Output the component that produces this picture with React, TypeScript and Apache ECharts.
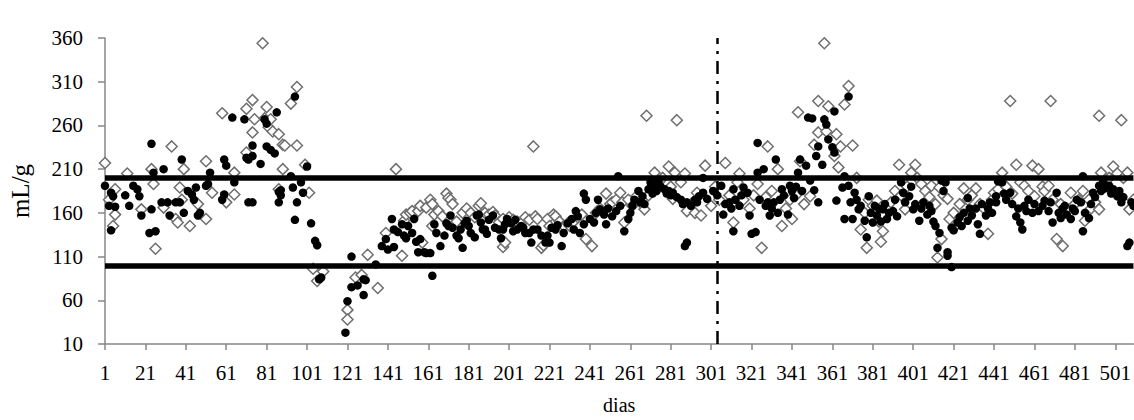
import React, { useEffect, useRef } from "react";
import * as echarts from "echarts";

// x categories: days 1..510 (labels shown every 20 days: 1, 21, 41, ... 501)
const dayCount = 510;
const categories: string[] = Array.from({ length: dayCount }, (_, i) => String(i + 1));
const labelEvery = 20;

// y ticks
const yTicks = [10, 60, 110, 160, 210, 260, 310, 360];

// reference lines
const upperLimit = 200;
const lowerLimit = 100;
const splitDay = "304";

// Black filled circles: [day, mL/g]
const circles1: [number, number][] = [
  [1,191],[3,168],[4,140],[4,183],[5,179],[6,167],[11,180],[13,168],[15,191],[17,187],[18,179],[19,157],
  [23,137],[24,164],[24,239],[25,206],[26,139],[29,172],[30,210],[32,172],[33,157],[36,172],[38,172],[39,221],
  [40,160],[42,185],[44,181],[45,175],[46,189],[47,157],[48,160],[51,191],[52,193],[53,206],[59,175],[60,181],
  [60,221],[61,214],[64,269],[65,195],[70,267],[71,223],[72,172],[72,221],[74,237],[74,172],[74,225],[78,216],
  [80,267],[81,262],[81,236],[83,232],[85,228],[86,275],[87,184],[88,186],[87,172],[88,180],[93,202],[94,189],
  [95,152],[95,293],[96,172],[98,195],[99,183],[101,213],[103,148],[105,128],[106,123],[107,84],[108,86],
];
const circles2: [number, number][] = [
  [120,23],[121,59],[123,110],[123,75],[126,77],[129,84],[129,66],[130,83],[135,101],[138,122],[140,130],[141,118],
  [143,153],[144,141],[144,121],[146,138],[148,147],[149,134],[150,131],[151,145],[153,137],[154,153],[155,127],
  [156,115],[157,130],[159,115],[160,114],[162,114],[163,88],[164,147],[165,137],[167,122],[169,134],[170,148],
  [171,145],[172,157],[173,143],[175,134],[176,131],[177,141],[178,120],[179,148],[180,151],[181,145],[182,137],
  [184,132],[185,157],[186,158],[187,149],[188,141],[189,141],[190,136],[191,152],[193,157],[194,143],[196,141],
  [197,131],[198,141],[199,147],[200,153],[202,148],[203,139],[204,152],[205,141],[207,145],[208,143],[209,137],
  [211,137],[212,126],[213,141],[215,141],[217,134],[219,126],[220,134],[221,126],[222,143],[224,141],[225,146],
  [227,122],[228,137],[230,148],[232,153],[233,141],[234,162],[235,156],[236,137],[238,147],[238,182],[239,175],
  [241,153],[243,149],[244,160],[245,175],[246,164],[248,158],[249,147],[250,165],[252,156],[254,162],[255,202],
  [256,168],[258,139],[260,153],[261,160],[262,168],[263,175],[265,185],[266,172],[267,179],[268,170],[270,187],
  [271,195],[272,182],[273,191],[274,185],[275,197],[276,190],[278,187],[279,182],[280,185],[281,180],[282,183],
  [284,178],[286,175],[287,170],[288,122],[289,126],[289,172],[291,168],[293,175],[294,172],[295,179],[297,183],
  [297,200],[299,176],
];
const circles3: [number, number][] = [
  [302,185],[304,180],[306,191],[307,158],[308,170],[310,172],[311,165],[312,187],[312,139],[313,175],[315,168],
  [316,180],[317,189],[319,183],[320,157],[321,136],[323,138],[324,240],[324,206],[325,175],[327,210],[328,168],
  [329,172],[330,157],[331,165],[332,172],[333,221],[334,160],[335,175],[336,187],[337,180],[339,158],[340,191],
  [341,185],[342,177],[343,190],[344,206],[345,221],[346,185],[348,214],[349,269],[350,197],[351,268],[352,186],
  [353,225],[354,172],[354,236],[356,215],[357,267],[358,261],[359,244],[361,235],[362,229],[362,276],[363,174],
  [366,189],[367,153],[367,202],[369,293],
];
const circles4: [number, number][] = [
  [369,191],[370,172],[371,153],[372,183],[373,175],[374,164],[375,168],[377,151],[378,132],[379,179],[380,160],
  [381,149],[382,168],[383,157],[384,165],[385,150],[386,164],[387,170],[388,153],[389,160],[391,162],[392,175],
  [393,156],[395,195],[396,183],[397,172],[399,179],[400,190],[401,164],[402,170],[404,151],[405,165],[406,172],
  [408,158],[409,168],[410,162],[411,150],[412,145],[413,120],[414,137],[415,197],[416,185],[417,195],[418,115],
  [418,111],[420,98],[420,143],[421,140],[423,149],[424,155],[425,145],[426,160],[428,151],[428,177],[429,165],
  [430,157],[432,165],[433,147],[434,136],[435,170],[437,157],[438,165],[439,172],[440,160],[442,179],[443,196],
];
const circles5: [number, number][] = [
  [442,172],[445,195],[446,182],[447,175],[449,183],[450,170],[452,156],[453,165],[454,149],[455,141],[456,168],
  [457,162],[458,175],[460,160],[461,170],[463,162],[465,168],[466,174],[468,162],[469,172],[470,149],[472,183],
  [473,160],[474,154],[475,165],[476,168],[477,158],[479,153],[480,165],[481,162],[482,175],[484,172],[485,202],
  [485,139],[486,160],[488,154],[489,170],[490,183],[491,178],[493,191],[494,185],[495,195],[496,188],[498,191],
  [499,182],[500,187],[502,179],[503,185],[504,172],[505,178],[507,122],[508,126],[509,172],[510,168],
];

// Open diamonds: [day, mL/g]
const diamonds1: [number, number][] = [
  [1,217],[3,175],[5,145],[6,187],[6,158],[12,205],[19,164],[24,210],[25,193],[26,119],[30,166],[34,236],
  [36,153],[37,149],[38,189],[39,175],[40,210],[43,145],[47,170],[51,153],[51,219],[54,183],[59,274],[61,172],
  [65,181],[65,206],[71,279],[71,229],[74,289],[74,252],[75,267],[79,354],[80,268],[81,281],[82,258],[83,267],
  [84,253],[87,250],[87,187],[89,210],[89,238],[90,237],[93,285],[96,304],[96,237],[100,215],[102,183],
];
const diamonds2: [number, number][] = [
  [104,96],[106,82],[109,93],[121,49],[121,38],[125,86],[128,89],[131,112],[136,74],[140,137],[145,210],
  [148,111],[149,151],[150,158],[152,160],[153,162],[156,162],[157,168],[158,126],[160,166],[162,175],[163,170],
  [163,145],[164,158],[166,162],[168,156],[170,182],[171,177],[172,175],[173,170],[175,150],[178,160],[180,165],
  [182,160],[184,155],[186,168],[187,171],[189,160],[191,158],[193,161],[194,157],[196,149],[198,153],[198,121],
  [199,126],[201,155],[203,152],[205,150],[207,148],[209,155],[211,152],[213,236],[214,156],[215,153],[217,120],
  [218,123],[220,153],[221,145],[223,158],[224,156],[226,150],[228,145],[230,148],[231,145],[233,150],[235,155],
  [237,158],[239,130],[242,122],[244,160],[246,165],[249,182],[251,170],[252,172],[254,175],[256,183],[257,172],
  [258,149],[260,175],[262,168],[264,179],[266,172],[268,164],[269,271],[270,180],[272,190],[273,206],[275,195],
  [277,200],[280,213],[281,190],[282,176],[283,206],[284,266],[286,195],[288,205],[289,162],[291,170],[293,160],
  [294,183],[296,157],[298,214],
];
const diamonds3: [number, number][] = [
  [301,168],[303,190],[305,175],[308,217],[310,180],[312,149],[314,195],[315,205],[317,175],[320,165],[322,180],
  [324,193],[326,120],[328,178],[329,236],[331,185],[334,210],[336,145],[338,165],[340,175],[341,153],[343,180],
  [344,275],[345,219],[347,170],[350,179],[352,238],[354,252],[354,288],[357,354],[358,253],[359,282],[362,225],
  [363,250],[364,212],[365,236],[367,284],[369,305],
];
const diamonds4: [number, number][] = [
  [371,237],[373,200],[375,141],[377,160],[378,120],[379,175],[381,168],[383,174],[384,150],[385,127],[386,139],
  [388,165],[390,172],[392,185],[394,215],[395,180],[397,164],[398,190],[400,206],[402,215],[403,200],[405,193],
  [407,185],[409,178],[410,191],[412,170],[413,109],[414,189],[415,130],[416,180],[418,176],[419,153],[421,160],
  [422,145],[424,170],[426,188],[428,175],[430,180],[432,188],[434,170],[436,165],[438,136],[440,175],[441,183],
];
const diamonds5: [number, number][] = [
  [443,187],[445,206],[447,190],[449,288],[450,182],[452,215],[454,195],[456,191],[458,185],[460,214],[461,179],
  [463,210],[465,190],[466,185],[468,191],[469,288],[470,175],[472,130],[474,170],[475,122],[477,165],[479,183],
  [481,170],[483,175],[485,185],[486,151],[488,175],[489,165],[491,172],[493,164],[493,271],[494,206],[496,195],
  [498,200],[500,213],[502,205],[504,266],[505,200],[507,206],[508,164],[510,175],
];

const circles = [...circles1, ...circles2, ...circles3, ...circles4, ...circles5];
const diamonds = [...diamonds1, ...diamonds2, ...diamonds3, ...diamonds4, ...diamonds5];

const toIndexed = (pts: [number, number][]) => pts.map(([d, v]) => [d - 1, v]);

const FONT = "'Liberation Serif', 'Times New Roman', serif";
const AXIS_GRAY = "#878787";

export default function App() {
  const ref = useRef<HTMLDivElement>(null);
  useEffect(() => {
    if (!ref.current) return;
    const chart = echarts.init(ref.current, undefined, { renderer: "svg" });
    chart.setOption({
      animation: false,
      backgroundColor: "#ffffff",
      grid: { left: 104, right: 0, top: 38, bottom: 75, containLabel: false },
      xAxis: {
        type: "category",
        data: categories,
        boundaryGap: false,
        name: "dias",
        nameLocation: "middle",
        nameGap: 51,
        nameTextStyle: { fontFamily: FONT, fontSize: 20, color: "#000" },
        axisLine: { lineStyle: { color: AXIS_GRAY, width: 1.5 } },
        axisTick: { interval: labelEvery - 1, length: 6, lineStyle: { color: AXIS_GRAY, width: 1.5 } },
        axisLabel: { interval: labelEvery - 1, margin: 18, fontFamily: FONT, fontSize: 21, color: "#000" },
        splitLine: { show: false },
      },
      yAxis: {
        type: "value",
        min: yTicks[0],
        max: yTicks[yTicks.length - 1],
        interval: yTicks[1] - yTicks[0],
        name: "mL/g",
        nameLocation: "middle",
        nameRotate: 90,
        nameGap: 72,
        nameTextStyle: { fontFamily: FONT, fontSize: 25, color: "#000" },
        axisLine: { show: true, lineStyle: { color: AXIS_GRAY, width: 1.5 } },
        axisTick: { show: true, length: 7, lineStyle: { color: AXIS_GRAY, width: 1.5 } },
        axisLabel: { margin: 22, fontFamily: FONT, fontSize: 21, color: "#000" },
        splitLine: { show: false },
      },
      series: [
        {
          type: "scatter",
          data: toIndexed(diamonds),
          symbol: "diamond",
          symbolSize: [11, 11],
          itemStyle: { color: "#ffffff", borderColor: "#6e6e6e", borderWidth: 1.5, opacity: 1 },
          z: 2,
        },
        {
          type: "scatter",
          data: toIndexed(circles),
          symbol: "circle",
          symbolSize: 8.5,
          itemStyle: { color: "#000000", opacity: 1 },
          z: 3,
          markLine: {
            silent: true,
            symbol: "none",
            label: { show: false },
            data: [
              { yAxis: upperLimit, lineStyle: { color: "#000", width: 5.5, type: "solid" } },
              { yAxis: lowerLimit, lineStyle: { color: "#000", width: 5.5, type: "solid" } },
              { xAxis: splitDay, lineStyle: { color: "#000", width: 2.5, type: [13, 7, 3, 7] } },
            ],
          },
        },
      ],
    });
    return () => chart.dispose();
  }, []);
  return (
    <div
      ref={ref}
      style={{ position: "fixed", left: 0, top: 0, width: 1134, height: 420, background: "#fff" }}
    />
  );
}
